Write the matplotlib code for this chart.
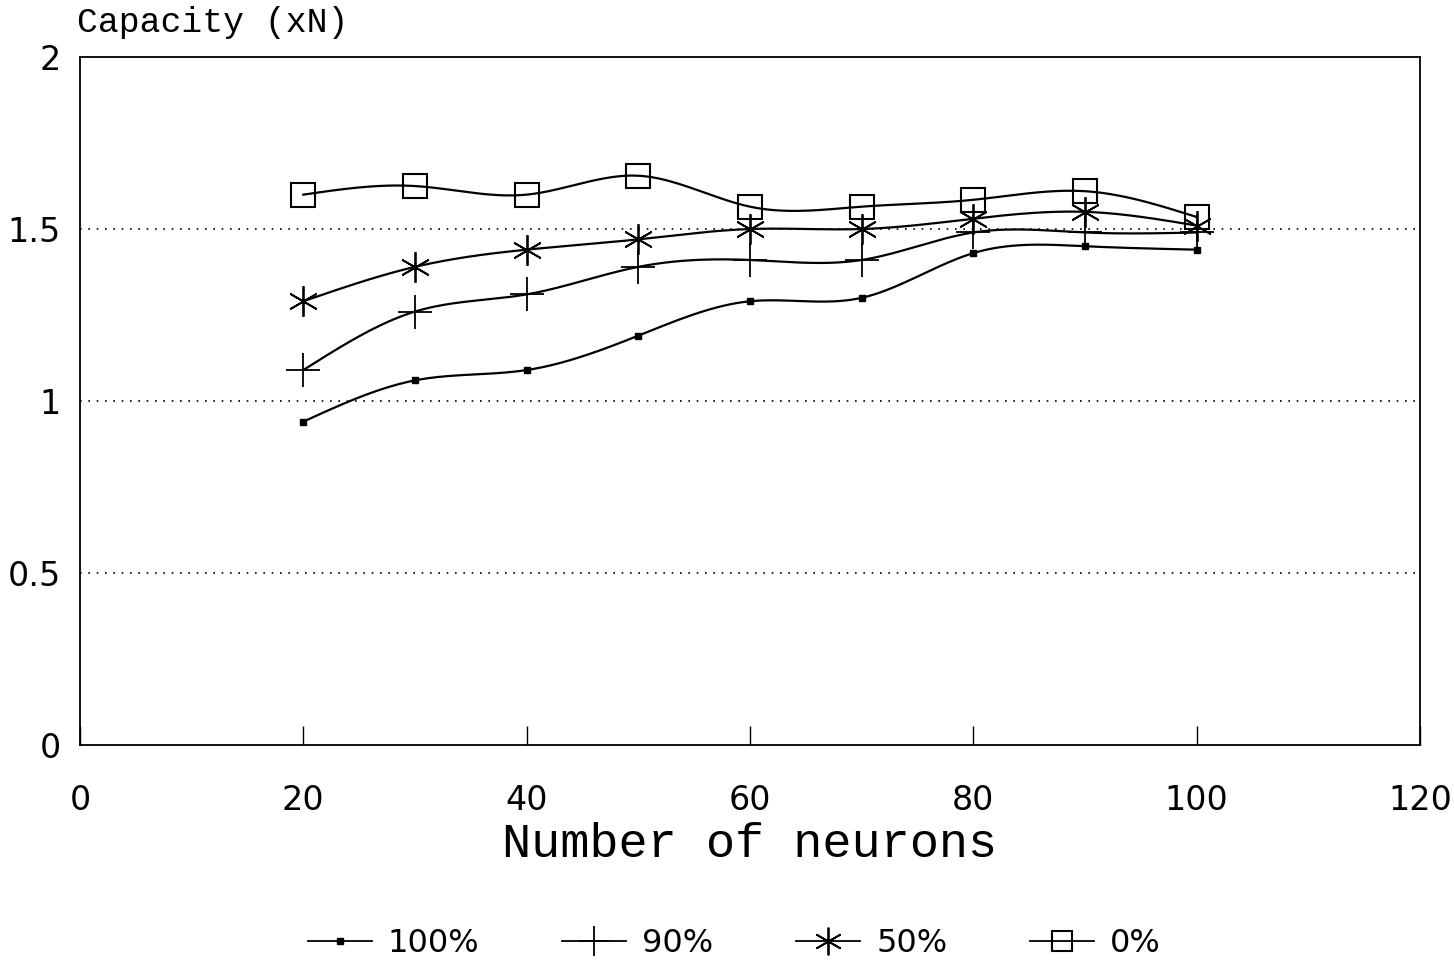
import numpy as np
import matplotlib
matplotlib.use("Agg")
import matplotlib.pyplot as plt
from matplotlib.lines import Line2D

neurons = [20, 30, 40, 50, 60, 70, 80, 90, 100]
cap_100 = [0.94, 1.06, 1.09, 1.19, 1.29, 1.30, 1.43, 1.45, 1.44]
cap_90 = [1.09, 1.26, 1.31, 1.39, 1.41, 1.41, 1.49, 1.49, 1.49]
cap_50 = [1.29, 1.39, 1.44, 1.47, 1.50, 1.50, 1.53, 1.55, 1.51]
cap_0 = [1.60, 1.625, 1.60, 1.655, 1.565, 1.565, 1.585, 1.61, 1.535]
labels = ["100%", "90%", "50%", "0%"]
xticks = [0, 20, 40, 60, 80, 100, 120]
yticks = [0, 0.5, 1, 1.5, 2]
ytick_labels = ["0", "0.5", "1", "1.5", "2"]


def natural_spline(x, y, n=300):
    x = np.asarray(x, float)
    y = np.asarray(y, float)
    k = len(x)
    h = np.diff(x)
    A = np.zeros((k, k))
    b = np.zeros(k)
    A[0, 0] = A[-1, -1] = 1
    for i in range(1, k - 1):
        A[i, i - 1] = h[i - 1]
        A[i, i] = 2 * (h[i - 1] + h[i])
        A[i, i + 1] = h[i]
        b[i] = 6 * ((y[i + 1] - y[i]) / h[i] - (y[i] - y[i - 1]) / h[i - 1])
    M = np.linalg.solve(A, b)
    xs = np.linspace(x[0], x[-1], n)
    idx = np.clip(np.searchsorted(x, xs) - 1, 0, k - 2)
    x0, x1 = x[idx], x[idx + 1]
    hh = x1 - x0
    t0 = x1 - xs
    t1 = xs - x0
    ys = (M[idx] * t0 ** 3 / (6 * hh) + M[idx + 1] * t1 ** 3 / (6 * hh)
          + (y[idx] / hh - M[idx] * hh / 6) * t0
          + (y[idx + 1] / hh - M[idx + 1] * hh / 6) * t1)
    return xs, ys


fig = plt.figure(figsize=(14.54, 9.67), dpi=100)
ax = fig.add_axes([0.055, 0.2296, 0.9216, 0.7114])

styles = [
    dict(marker="s", ms=5, mfc="black", mec="black"),
    dict(marker="+", ms=24, mew=1.3),
    dict(marker=(6, 2, 0), ms=22, mew=1.3),
    dict(marker="s", ms=17, mfc="none", mec="black", mew=1.5),
]
series = [cap_100, cap_90, cap_50, cap_0]

for ys, st in zip(series, styles):
    xs_s, ys_s = natural_spline(neurons, ys)
    ax.plot(xs_s, ys_s, color="black", lw=1.6)
    ax.plot(neurons, ys, linestyle="none", color="black", **st)

for g in [0.5, 1.0, 1.5]:
    ax.axhline(g, color="black", lw=1.2, ls=(0, (1, 4)))

ax.set_xlim(0, 120)
ax.set_ylim(0, 2)
ax.set_xticks(xticks)
ax.set_yticks(yticks)
ax.set_yticklabels(ytick_labels)
ax.tick_params(axis="x", direction="in", length=14, width=1, pad=28,
               labelsize=24, top=False)
ax.tick_params(axis="y", length=0, pad=14, labelsize=24)
for sp in ax.spines.values():
    sp.set_linewidth(1.3)

ax.set_xlabel("Number of neurons", fontsize=35, family="Liberation Mono",
              labelpad=4)
fig.text(0.053, 0.96, "Capacity (xN)", fontsize=25, family="Liberation Mono",
         ha="left", va="bottom")

handles = [Line2D([0], [0], color="black", lw=1.3, **st) for st in styles]
handles[0].set_markersize(5)
handles[1].set_markersize(22)
handles[2].set_markersize(20)
handles[3].set_markersize(14)
fig.legend(handles, labels, loc="center", bbox_to_anchor=(0.505, 0.024),
           ncol=4, frameon=False, fontsize=23, handlelength=2.0,
           columnspacing=2.6, handletextpad=0.5)

fig.savefig("out.png", dpi=100)
